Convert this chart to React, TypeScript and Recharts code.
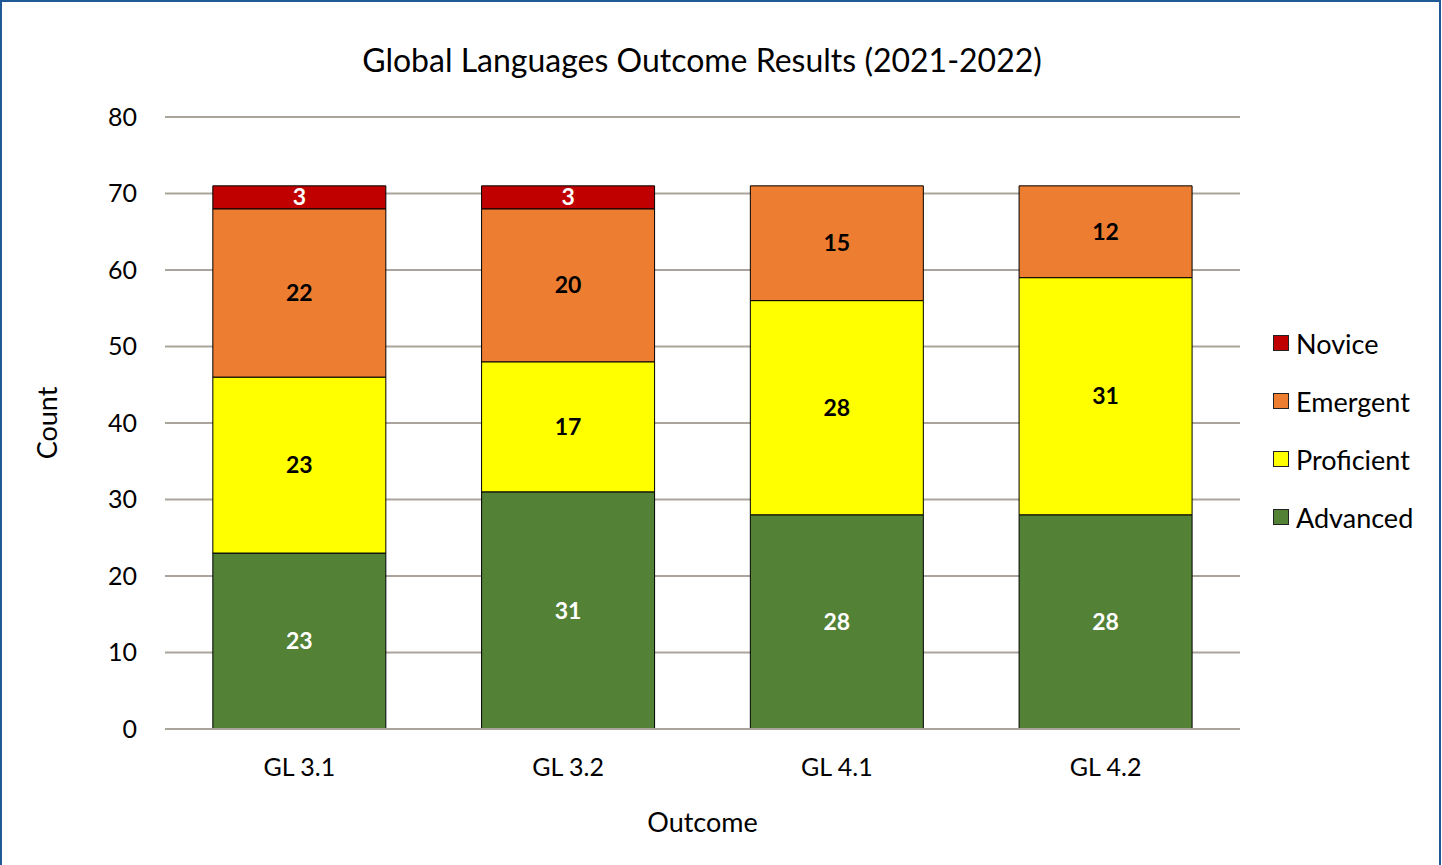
import { BarChart, Bar, XAxis, YAxis, CartesianGrid, LabelList } from 'recharts'

const outcomes = ['GL 3.1', 'GL 3.2', 'GL 4.1', 'GL 4.2']
const advanced = [23, 31, 28, 28]
const proficient = [23, 17, 28, 31]
const emergent = [22, 20, 15, 12]
const novice: (number | null)[] = [3, 3, null, null]
const yTicks = [0, 10, 20, 30, 40, 50, 60, 70, 80]

const FONT = 'Lato, "Open Sans", sans-serif'
const GRID = '#ABA49C'

const series = [
  { key: 'Advanced', color: '#538135', label: '#ffffff' },
  { key: 'Proficient', color: '#FFFF00', label: '#000000' },
  { key: 'Emergent', color: '#ED7D31', label: '#000000' },
  { key: 'Novice', color: '#C00000', label: '#ffffff' },
]

const data = outcomes.map((name, i) => ({
  name,
  Advanced: advanced[i],
  Proficient: proficient[i],
  Emergent: emergent[i],
  Novice: novice[i],
}))

// legend drawn by hand so the plot keeps its full width
const LegendBox = () => (
  <div style={{ position: 'absolute', left: 1271, top: 312, fontFamily: FONT }}>
    {[...series].reverse().map((s) => (
      <div key={s.key} style={{ display: 'flex', alignItems: 'center', height: 58 }}>
        <span
          style={{
            width: 16,
            height: 16,
            background: s.color,
            border: '1px solid #222',
            marginRight: 7,
            boxSizing: 'border-box',
          }}
        />
        <span style={{ fontSize: 27, color: '#000' }}>{s.key}</span>
      </div>
    ))}
  </div>
)

export default function App() {
  return (
    <div
      style={{
        position: 'absolute',
        left: 0,
        top: 0,
        width: 1441,
        height: 866,
        boxSizing: 'border-box',
        borderTop: '2px solid #1F5A96',
        borderLeft: '2px solid #1F5A96',
        borderRight: '2px solid #1F5A96',
        background: '#fff',
      }}
    >
      <div
        style={{
          position: 'absolute',
          top: 38,
          left: 0,
          width: 1400,
          textAlign: 'center',
          fontFamily: FONT,
          fontSize: 32,
          color: '#000',
        }}
      >
        Global Languages Outcome Results (2021-2022)
      </div>
      <div style={{ position: 'absolute', left: -2, top: -2 }}>
        <BarChart
          width={1442}
          height={865}
          data={data}
          barCategoryGap="17.8%"
          margin={{ top: 117, right: 202, bottom: 106, left: 105 }}
        >
          <CartesianGrid vertical={false} stroke={GRID} strokeWidth={2} />
          <XAxis
            dataKey="name"
            height={30}
            axisLine={{ stroke: GRID, strokeWidth: 2 }}
            tickLine={false}
            tickSize={0}
            tickMargin={29}
            tick={{ fill: '#000', fontSize: 25, fontFamily: FONT }}
            label={{
              value: 'Outcome',
              position: 'insideBottom',
              offset: -73,
              style: { fill: '#000', fontSize: 27, fontFamily: FONT },
            }}
          />
          <YAxis
            width={60}
            domain={[0, 80]}
            ticks={yTicks}
            axisLine={false}
            tickLine={false}
            tickSize={0}
            tickMargin={28}
            tick={{ fill: '#000', fontSize: 25, fontFamily: FONT }}
            label={{
              value: 'Count',
              angle: -90,
              position: 'insideLeft',
              offset: -58,
              style: { fill: '#000', fontSize: 27, fontFamily: FONT, textAnchor: 'middle' },
            }}
          />
          {series.map((s) => (
            <Bar
              key={s.key}
              dataKey={s.key}
              stackId="a"
              fill={s.color}
              stroke="#000"
              strokeWidth={1}
              isAnimationActive={false}
            >
              <LabelList
                dataKey={s.key}
                position="center"
                style={{ fill: s.label, fontSize: 23, fontWeight: 700, fontFamily: FONT }}
              />
            </Bar>
          ))}
        </BarChart>
      </div>
      <LegendBox />
    </div>
  )
}
